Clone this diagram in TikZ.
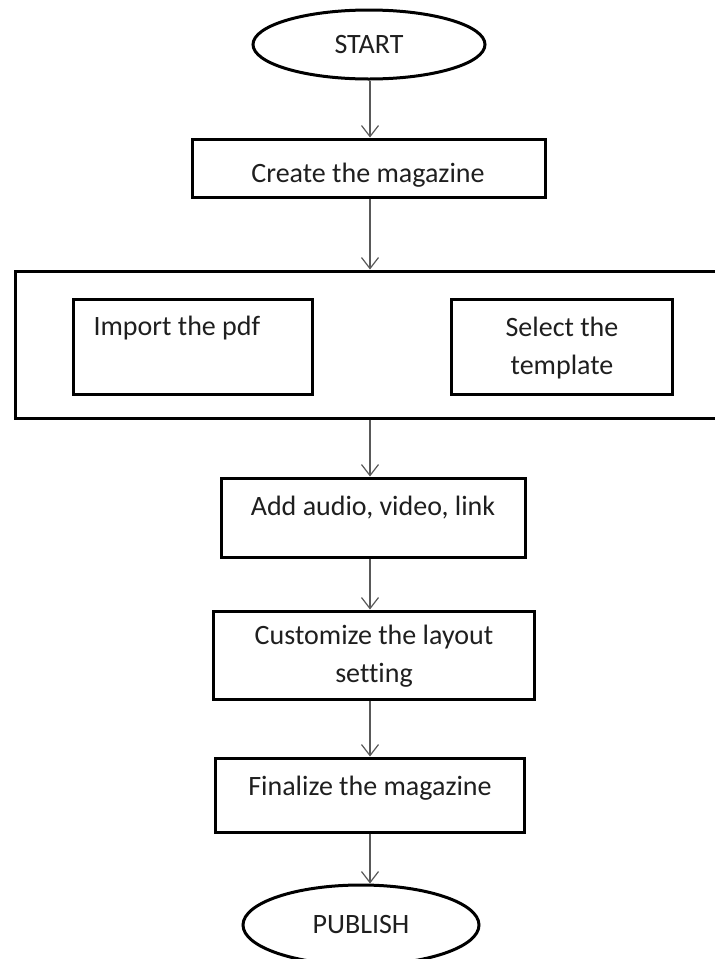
\documentclass[tikz,border=0pt]{standalone}
\usepackage{fontspec}
\setmainfont{Carlito}[Ligatures=NoCommon]
\usetikzlibrary{arrows.meta,shapes.geometric}

\begin{document}
\begin{tikzpicture}[x=1pt,y=-1pt,>={Straight Barb[length=11pt,width=17pt]},every node/.style={font=\fontsize{28}{38}\selectfont,text=black!88},
  box/.style={draw,line width=3pt,inner sep=0pt},
  term/.style={ellipse,draw,line width=3pt,inner sep=0pt},
  flow/.style={->,draw=black!65,line width=1.2pt}]
\useasboundingbox (0,0) rectangle (715,959);
\fill[white] (0,0) rectangle (715,959);
\clip (0,0) rectangle (715,959);
\coordinate (spine) at (370,0);
% terminals and steps
\node[term,minimum width=232pt,minimum height=69pt] (start) at (369,44.5){START};
\node[box,minimum width=353pt,minimum height=58pt] (create) at (368.5,168){};\node[anchor=base] (createtxt) at (368,182){Create the magazine};
% the two ways in
\node[box,minimum width=715pt,minimum height=147pt] (group) at (372.5,344.5){};
\node[box,minimum width=239pt,minimum height=95pt] (import) at (192.5,346.5){};\node[anchor=base west] (importtxt) at (90,335){Import the pdf};
\node[box,minimum width=221pt,minimum height=95pt] (select) at (561.5,346.5){};\node[anchor=north,align=center,inner sep=0pt] (selecttxt) at (562,317){Select the\\template};
% rest of the flow
\node[box,minimum width=304pt,minimum height=79pt] (add) at (373,517.5){};\node[anchor=base] (addtxt) at (373,515){Add audio, video, link};
\node[box,minimum width=321pt,minimum height=88pt] (custom) at (373.5,655){};\node[anchor=north,align=center,inner sep=0pt] (customtxt) at (374,625){Customize the layout\\setting};
\node[box,minimum width=309pt,minimum height=74pt] (final) at (369.5,795){};\node[anchor=base] (finaltxt) at (370,795){Finalize the magazine};
\node[term,minimum width=236pt,minimum height=80pt] (publish) at (361,925){PUBLISH};
\draw[flow] (spine |- start.south)--(spine |- create.north);
\draw[flow] (spine |- create.south)--(spine |- group.north);
\draw[flow] (spine |- group.south)--(spine |- add.north);
\draw[flow] (spine |- add.south)--(spine |- custom.north);
\draw[flow] (spine |- custom.south)--(spine |- final.north);
\draw[flow] (spine |- final.south)--(spine |- publish.north);
\end{tikzpicture}
\end{document}
